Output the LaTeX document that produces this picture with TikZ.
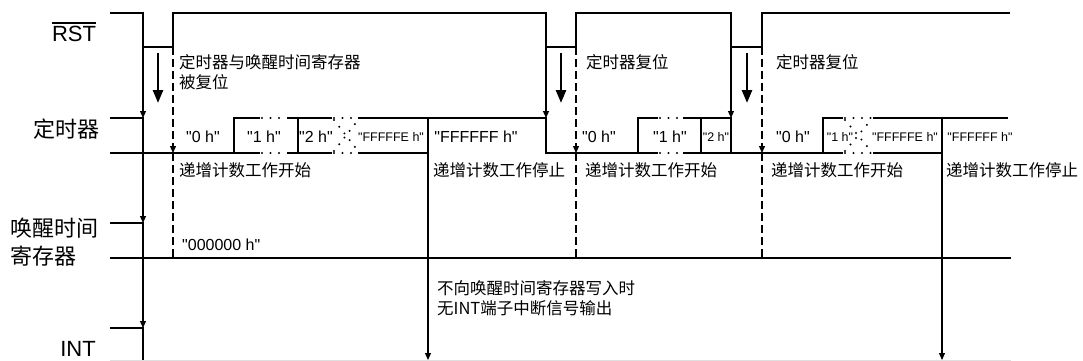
\documentclass[tikz,border=0pt]{standalone}
\usepackage{fontspec}
\setmainfont{Liberation Sans}
\newfontfamily\cjk{Noto Sans CJK SC}
\usetikzlibrary{arrows.meta}
\newcommand\hexval[1]{\textquotedbl#1\textquotedbl}

\begin{document}
\begin{tikzpicture}[x=1pt,y=-1pt,
    wave/.style={line width=2.4pt},
    conn/.style={line width=1.1pt,-{Triangle[length=7pt,width=6pt]}},
    resetarr/.style={line width=2.6pt,-{Triangle[length=13pt,width=10pt]}},
    guide/.style={line width=1.3pt,dash pattern=on 8pt off 4pt},
    dotseg/.style={line width=2.2pt,dash pattern=on 0pt off 8.5pt,line cap=round},
    lbl/.style={inner sep=0pt,font=\fontsize{22}{24}\selectfont},
    sig/.style={inner sep=0pt,anchor=west,font=\cjk\fontsize{22}{24}\selectfont},
    note/.style={inner sep=0pt,anchor=west,font=\cjk\fontsize{16.5}{20}\selectfont},
    val/.style={inner sep=0pt,font=\fontsize{16}{18}\selectfont},
    sval/.style={inner sep=0pt,font=\fontsize{12.5}{14}\selectfont}]
    \useasboundingbox (0,0) rectangle (1083,361);

    % Signal names
    \node[lbl] (rst) at (74,34) {RST};
    \draw[line width=1.2pt] ([yshift=3pt]rst.north west) -- ([yshift=3pt]rst.north east);
    \node[sig] (tmr) at (33,129) {定时器};
    \node[sig] (wk1) at (10,228) {唤醒时间};
    \node[sig] (wk2) at (10,256) {寄存器};
    \node[lbl] (int) at (78,349) {INT};

    % RST
    \draw[wave] (110,13) -| (143,47) -| (173,13) -| (546,47) -| (576,13)
        -| (731,47) -| (762,13) -- (1010,13);

    % Timer, first count
    \draw[wave] (110,118) -- (143,118) -- (143,153);
    \draw[wave] (110,153) -- (260,153);
    \draw[wave] (287,153) -- (332,153);
    \draw[wave] (358,153) -- (428,153);
    \draw[wave] (234,153) -- (234,118) -- (260,118);
    \draw[wave] (287,118) -- (332,118);
    \draw[wave] (358,118) -- (546,118) -- (546,153) -- (658,153);
    \draw[wave] (298,118) -- (298,153);
    \draw[wave] (428,118) -- (428,153);
    \draw[dotseg] (262,118) -- (287,118);
    \draw[dotseg] (262,153) -- (287,153);
    \draw[dotseg] (334,118) -- (358,118);
    \draw[dotseg] (334,153) -- (358,153);
    \draw[dotseg] (334,120) -- (358,151);
    \draw[dotseg] (334,151) -- (358,120);

    % Timer, second count
    \draw[wave] (638,153) -- (638,118) -- (658,118);
    \draw[wave] (683,118) -- (731,118) -- (731,153);
    \draw[wave] (701,118) -- (701,153);
    \draw[wave] (683,153) -- (843,153);
    \draw[dotseg] (660,118) -- (683,118);
    \draw[dotseg] (660,153) -- (683,153);

    % Timer, third count
    \draw[wave] (823,153) -- (823,118) -- (843,118);
    \draw[wave] (873,118) -- (1008,118);
    \draw[wave] (873,153) -- (942,153);
    \draw[wave] (942,118) -- (942,153);
    \draw[dotseg] (845,118) -- (873,118);
    \draw[dotseg] (845,153) -- (873,153);
    \draw[dotseg] (845,120) -- (871,151);
    \draw[dotseg] (845,151) -- (871,120);

    % Wake-up time register
    \draw[wave] (110,223) -- (143,223) -- (143,258);
    \draw[wave] (110,258) -- (1011,258);

    % INT
    \draw[wave] (110,328) -- (143,328) -- (143,361);
    \draw[gray!25,line width=1pt] (110,360) -- (1011,360);

    % Edge points
    \coordinate (rf1) at (143,47);
    \coordinate (rr1) at (173,47);
    \coordinate (rf2) at (546,47);
    \coordinate (rr2) at (576,47);
    \coordinate (rf3) at (731,47);
    \coordinate (rr3) at (762,47);
    \coordinate (tf1) at (143,118);
    \coordinate (tl1) at (143,153);
    \coordinate (wh1) at (143,223);
    \coordinate (wl1) at (143,258);
    \coordinate (ih1) at (143,328);
    \coordinate (tf2) at (546,118);
    \coordinate (tf3) at (731,118);
    \coordinate (sp1) at (428,153);
    \coordinate (se1) at (428,360);
    \coordinate (sp2) at (942,153);
    \coordinate (se2) at (942,360);

    % Reset arrows
    \draw[conn] (rf1) -- (tf1);
    \draw[conn] (tl1) -- (wh1);
    \draw[conn] (wl1) -- (ih1);
    \draw[conn] (rf2) -- (tf2);
    \draw[conn] (rf3) -- (tf3);

    % Count start (dashed)
    \foreach \n/\x in {1/173,2/576,3/762} {
        \coordinate (ts\n) at (\x,153);
        \coordinate (ws\n) at (\x,258);
        \draw[guide,-{Triangle[length=7pt,width=6pt]}] (rr\n) -- (ts\n);
        \draw[guide] (ts\n) -- (ws\n);
    }

    % Count stop
    \draw[conn] (sp1) -- (se1);
    \draw[conn] (sp2) -- (se2);

    % Big arrows
    \draw[resetarr] (158,53) -- (158,103);
    \draw[resetarr] (561,53) -- (561,103);
    \draw[resetarr] (747,53) -- (747,103);

    % Notes
    \node[note] (n1) at (179,62) {定时器与唤醒时间寄存器};
    \node[note] (n2) at (179,82) {被复位};
    \node[note] (n3) at (586,62) {定时器复位};
    \node[note] (n4) at (776,62) {定时器复位};
    \node[note] (s1) at (179,170) {递增计数工作开始};
    \node[note] (p1) at (433,170) {递增计数工作停止};
    \node[note] (s2) at (585,170) {递增计数工作开始};
    \node[note] (s3) at (771,170) {递增计数工作开始};
    \node[note] (p2) at (946,170) {递增计数工作停止};
    \node[note] (w1) at (437,288) {不向唤醒时间寄存器写入时};
    \node[note] (w2) at (437,308) {无INT端子中断信号输出};

    % Count values
    \node[val] (c0a) at (203,137) {\hexval{0 h}};
    \node[val] (c1a) at (264,137) {\hexval{1 h}};
    \node[val] (c2a) at (316,137) {\hexval{2 h}};
    \node[sval] (cea) at (391,137) {\hexval{FFFFFE h}};
    \node[val] (cfa) at (476,137) {\hexval{FFFFFF h}};
    \node[val] (c0b) at (599,137) {\hexval{0 h}};
    \node[val] (c1b) at (670,137) {\hexval{1 h}};
    \node[sval] (c2b) at (716,137) {\hexval{2 h}};
    \node[val] (c0c) at (793,137) {\hexval{0 h}};
    \node[sval] (c1c) at (840,137) {\hexval{1 h}};
    \node[sval] (ceb) at (905,137) {\hexval{FFFFFE h}};
    \node[sval] (cfb) at (980,137) {\hexval{FFFFFF h}};
    \node[val,anchor=west] (reg) at (182,245) {\hexval{000000 h}};
\end{tikzpicture}
\end{document}
